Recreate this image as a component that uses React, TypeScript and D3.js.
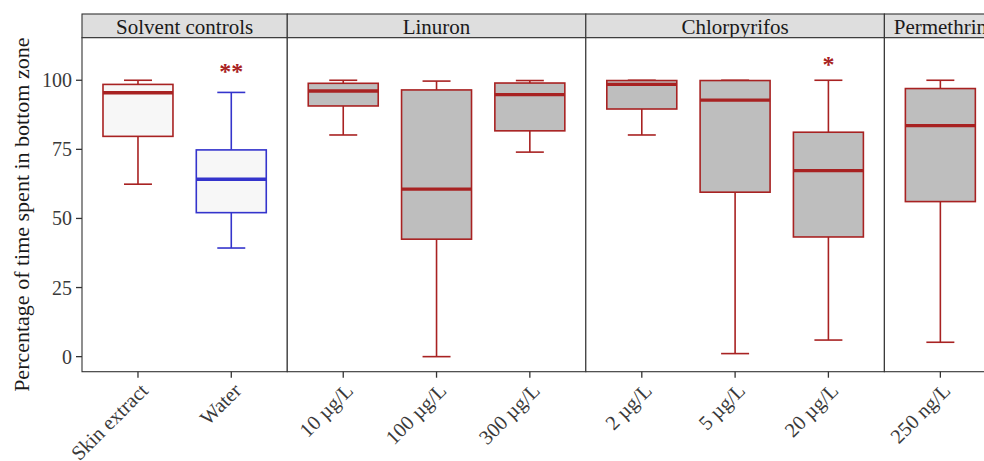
import React from "react";
import * as d3 from "d3";

// ---- data ----
const panels = ["Solvent controls", "Linuron", "Chlorpyrifos", "Permethrin"];
const categories = [
  ["Skin extract", "Water"],
  ["10 µg/L", "100 µg/L", "300 µg/L"],
  ["2 µg/L", "5 µg/L", "20 µg/L"],
  ["250 ng/L"],
];
// [whiskerLow, q1, median, q3, whiskerHigh]
const boxStats = [
  [[62.4, 79.7, 95.5, 98.5, 100], [39.3, 52.1, 64.2, 74.8, 95.6]],
  [[80.2, 90.7, 96.1, 98.9, 100], [0, 42.5, 60.6, 96.5, 99.7], [74, 81.7, 94.8, 99, 99.9]],
  [[80.2, 89.6, 98.5, 99.9, 100], [1.1, 59.5, 92.8, 99.9, 100], [6.0, 43.3, 67.3, 81.2, 100]],
  [[5.2, 56.1, 83.6, 97, 100]],
];
const boxGroup = [["control", "water"], ["treat", "treat", "treat"], ["treat", "treat", "treat"], ["treat"]];
const annotations = [
  { panel: 0, cat: "Water", label: "**", y: 104.3 },
  { panel: 2, cat: "20 µg/L", label: "*", y: 107 },
];
const yTicks = [0, 25, 50, 75, 100];
const yTitle = "Percentage of time spent in bottom zone";

// ---- layout ----
const W = 984, H = 461;
const plotLeft = 82;
const step = 93.3;
const stripTop = 14, panelTop = 37.7, panelBottom = 371.7;
const RED = "#A82222";
const BLUE = "#3434CC";
const FONT = "'Liberation Serif', 'Times New Roman', serif";

export default function App() {
  const y = d3.scaleLinear().domain([-5.45, 115.4]).range([panelBottom, panelTop]);

  let x0 = plotLeft;
  const panelScales = categories.map((cats) => {
    const w = step * (cats.length + 0.2);
    const s = d3.scalePoint<string>().domain(cats).range([x0, x0 + w]).padding(0.6);
    const r = { s, x0, x1: x0 + w };
    x0 += w;
    return r;
  });

  const boxW = step * 0.75;
  const capW = step * 0.3;

  return (
    <svg width={W} height={H} style={{ position: "absolute", left: 0, top: 0, background: "#fff" }} fontFamily={FONT}>
      {/* y axis title */}
      <text
        transform={`translate(21,${(panelTop + panelBottom) / 2 + 10}) rotate(-90)`}
        textAnchor="middle"
        dominantBaseline="central"
        fontSize={22}
        fill="#1a1a1a"
      >
        {yTitle}
      </text>
      {/* y ticks */}
      {yTicks.map((t) => (
        <g key={t}>
          <line x1={plotLeft - 6} x2={plotLeft} y1={y(t)} y2={y(t)} stroke="#333" strokeWidth={1.3} />
          <text x={plotLeft - 10} y={y(t)} textAnchor="end" dominantBaseline="central" fontSize={20} fill="#3a3a3a">
            {t}
          </text>
        </g>
      ))}
      {panelScales.map((p, pi) => (
        <g key={pi}>
          {/* strip */}
          <rect x={p.x0} y={stripTop} width={p.x1 - p.x0} height={panelTop - stripTop} fill="#DEDEDE" stroke="#333" strokeWidth={1.1} />
          <text x={(p.x0 + p.x1) / 2} y={(stripTop + panelTop) / 2 + 1} textAnchor="middle" dominantBaseline="central" fontSize={21} fill="#1a1a1a">
            {panels[pi]}
          </text>
          {/* panel */}
          <rect x={p.x0} y={panelTop} width={p.x1 - p.x0} height={panelBottom - panelTop} fill="#fff" stroke="#333" strokeWidth={1.1} />
          {categories[pi].map((c, ci) => {
            const cx = p.s(c)!;
            const [lo, q1, med, q3, hi] = boxStats[pi][ci];
            const g = boxGroup[pi][ci];
            const col = g === "water" ? BLUE : RED;
            const fill = g === "treat" ? "#BEBEBE" : "#F7F7F7";
            return (
              <g key={c}>
                <line x1={cx} x2={cx} y1={y(hi)} y2={y(q3)} stroke={col} strokeWidth={1.6} />
                <line x1={cx} x2={cx} y1={y(q1)} y2={y(lo)} stroke={col} strokeWidth={1.6} />
                <line x1={cx - capW / 2} x2={cx + capW / 2} y1={y(hi)} y2={y(hi)} stroke={col} strokeWidth={1.6} />
                <line x1={cx - capW / 2} x2={cx + capW / 2} y1={y(lo)} y2={y(lo)} stroke={col} strokeWidth={1.6} />
                <rect x={cx - boxW / 2} y={y(q3)} width={boxW} height={y(q1) - y(q3)} fill={fill} stroke={col} strokeWidth={1.6} />
                <line x1={cx - boxW / 2} x2={cx + boxW / 2} y1={y(med)} y2={y(med)} stroke={col} strokeWidth={3.4} />
                {/* x tick */}
                <line x1={cx} x2={cx} y1={panelBottom} y2={panelBottom + 6} stroke="#333" strokeWidth={1.3} />
                <text
                  transform={`translate(${cx + 1},${panelBottom + 10}) rotate(-45)`}
                  textAnchor="end"
                  dominantBaseline="hanging"
                  fontSize={20.5}
                  fill="#3a3a3a"
                >
                  {c}
                </text>
              </g>
            );
          })}
        </g>
      ))}
      {annotations.map((a, i) => {
        const cx = panelScales[a.panel].s(a.cat)!;
        return (
          <text key={i} x={cx} y={y(a.y) + 11} textAnchor="middle" fontSize={24} fontWeight="bold" fill={RED}>
            {a.label}
          </text>
        );
      })}
    </svg>
  );
}
